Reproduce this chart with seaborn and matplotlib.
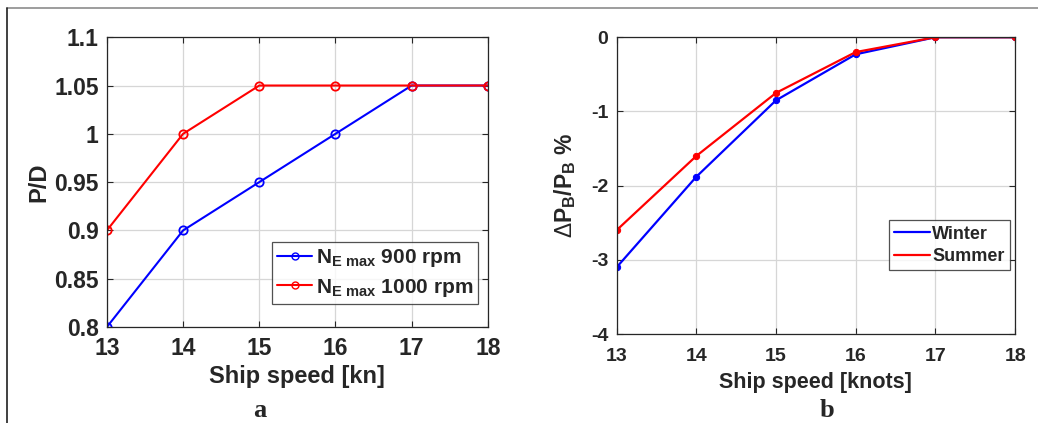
#!/usr/bin/env python3
"""
P/D vs ship speed and power change vs ship speed (two panels)
"""

import pandas as pd
import matplotlib
matplotlib.use('Agg')
import matplotlib.pyplot as plt
from matplotlib.lines import Line2D
import seaborn as sns

# --- data ---
speed = [13, 14, 15, 16, 17, 18]
pd_900 = [0.80, 0.90, 0.95, 1.00, 1.05, 1.05]
pd_1000 = [0.90, 1.00, 1.05, 1.05, 1.05, 1.05]
dp_winter = [-3.10, -1.88, -0.85, -0.23, 0.0, 0.0]
dp_summer = [-2.60, -1.60, -0.75, -0.20, 0.0, 0.0]

label_900 = r'$\mathbf{N}_{\mathbf{E\ max}}$ 900 rpm'
label_1000 = r'$\mathbf{N}_{\mathbf{E\ max}}$ 1000 rpm'
x_ticks = [13, 14, 15, 16, 17, 18]
left_yticks = [0.8, 0.85, 0.9, 0.95, 1.0, 1.05, 1.1]
left_yticklabels = ['0.8', '0.85', '0.9', '0.95', '1', '1.05', '1.1']
right_yticks = [-4, -3, -2, -1, 0]

TXT = '#262626'


def setup_plot_style():
    """MATLAB-like style"""
    sns.set_theme(style='white')
    plt.rcParams['font.family'] = ['Liberation Sans', 'DejaVu Sans']
    plt.rcParams['font.weight'] = 'bold'
    plt.rcParams['mathtext.fontset'] = 'custom'
    plt.rcParams['mathtext.rm'] = 'Liberation Sans:weight=normal'
    plt.rcParams['mathtext.bf'] = 'Liberation Sans:bold'
    plt.rcParams['mathtext.it'] = 'Liberation Sans:bold'
    plt.rcParams['xtick.direction'] = 'in'
    plt.rcParams['ytick.direction'] = 'in'


def style_axes(ax, tick_size, xpad=7):
    ax.grid(True, color='#d6d6d6', linewidth=0.9)
    ax.set_axisbelow(True)
    for sp in ax.spines.values():
        sp.set_color(TXT)
        sp.set_linewidth(0.9)
    ax.tick_params(axis='both', which='both', direction='in', length=4,
                   top=True, right=True, bottom=True, left=True,
                   labelsize=tick_size, colors=TXT, width=0.8)
    ax.tick_params(axis='x', pad=xpad)
    ax.tick_params(axis='y', pad=6)
    for lab in ax.get_xticklabels() + ax.get_yticklabels():
        lab.set_fontweight('bold')
        lab.set_color(TXT)


def main():
    setup_plot_style()
    fig = plt.figure(figsize=(10.38, 4.23), dpi=100)

    # --- panel a ---
    ax1 = fig.add_axes([0.103, 0.227, 0.367, 0.685])
    df_a = pd.DataFrame({
        'speed': speed * 2,
        'pd': pd_900 + pd_1000,
        'case': [label_900] * len(speed) + [label_1000] * len(speed),
    })
    sns.lineplot(data=df_a, x='speed', y='pd', hue='case',
                 palette=['#0000ff', '#ff0000'], marker='o', markersize=6,
                 linewidth=1.5, ax=ax1, legend=False)
    for line, c in zip(ax1.lines, ['#0000ff', '#ff0000']):
        line.set_markerfacecolor('none')
        line.set_markeredgecolor(c)
        line.set_markeredgewidth(1.3)
    ax1.set_xlim(13, 18)
    ax1.set_ylim(0.8, 1.1)
    ax1.set_xticks(x_ticks)
    ax1.set_yticks(left_yticks)
    ax1.set_yticklabels(left_yticklabels)
    ax1.set_xlabel('Ship speed [kn]', fontsize=17, fontweight='bold',
                   color=TXT, labelpad=4)
    ax1.set_ylabel('P/D', fontsize=17, fontweight='bold', color=TXT,
                   labelpad=3)
    style_axes(ax1, 16.5)
    handles = [Line2D([], [], color='#0000ff', marker='o', mfc='none',
                      mec='#0000ff', markersize=5, linewidth=1.5),
               Line2D([], [], color='#ff0000', marker='o', mfc='none',
                      mec='#ff0000', markersize=5, linewidth=1.5)]
    leg = ax1.legend(handles, [label_900, label_1000], loc='upper left',
                     bbox_to_anchor=(0.433, 0.293), borderaxespad=0,
                     prop={'size': 15, 'weight': 'bold'}, frameon=True,
                     fancybox=False, handlelength=1.7, handletextpad=0.15,
                     labelspacing=0.35, borderpad=0.25)
    leg.get_frame().set_edgecolor(TXT)
    leg.get_frame().set_linewidth(0.9)

    # --- panel b ---
    ax2 = fig.add_axes([0.594, 0.210, 0.384, 0.702])
    df_b = pd.DataFrame({
        'speed': speed * 2,
        'dp': dp_winter + dp_summer,
        'season': ['Winter'] * len(speed) + ['Summer'] * len(speed),
    })
    sns.lineplot(data=df_b, x='speed', y='dp', hue='season',
                 palette=['#0000ff', '#ff0000'], marker='o', markersize=4.5,
                 linewidth=1.6, ax=ax2, legend=False)
    for line, c in zip(ax2.lines, ['#0000ff', '#ff0000']):
        line.set_markerfacecolor(c)
        line.set_markeredgecolor(c)
    ax2.set_xlim(13, 18)
    ax2.set_ylim(-4, 0)
    ax2.set_xticks(x_ticks)
    ax2.set_yticks(right_yticks)
    ax2.set_yticklabels([str(v) for v in right_yticks])
    ax2.set_xlabel('Ship speed [knots]', fontsize=15.5, fontweight='bold',
                   color=TXT, labelpad=5)
    ax2.set_ylabel(r'$\Delta\mathbf{P}_{\mathbf{B}}\mathbf{/P}_{\mathbf{B}}$ %',
                   fontsize=16.5, fontweight='bold', color=TXT, labelpad=9)
    style_axes(ax2, 14, xpad=10)
    handles = [Line2D([], [], color='#0000ff', linewidth=1.6),
               Line2D([], [], color='#ff0000', linewidth=1.6)]
    leg = ax2.legend(handles, ['Winter', 'Summer'], loc='upper left',
                     bbox_to_anchor=(0.683, 0.384), borderaxespad=0,
                     prop={'size': 13, 'weight': 'bold'}, frameon=True,
                     fancybox=False, handlelength=2.0, handletextpad=0.1,
                     labelspacing=0.3, borderpad=0.3)
    leg.get_frame().set_edgecolor(TXT)
    leg.get_frame().set_linewidth(0.9)

    # panel letters
    fig.text(260 / 1038, 1 - 410 / 423, 'a', fontsize=19, fontweight='bold',
             family=['Liberation Serif'], ha='center', va='center')
    fig.text(827 / 1038, 1 - 410 / 423, 'b', fontsize=19, fontweight='bold',
             family=['Liberation Serif'], ha='center', va='center')

    # outer frame
    fig.add_artist(Line2D([7 / 1038, 1.0], [1 - 8 / 423, 1 - 8 / 423],
                          transform=fig.transFigure, color='#8c8c8c',
                          linewidth=1.2))
    fig.add_artist(Line2D([7 / 1038, 7 / 1038], [0, 1 - 8 / 423],
                          transform=fig.transFigure, color='#202020',
                          linewidth=1.2))

    fig.savefig('out.png', dpi=100)
    plt.close(fig)


if __name__ == "__main__":
    main()
